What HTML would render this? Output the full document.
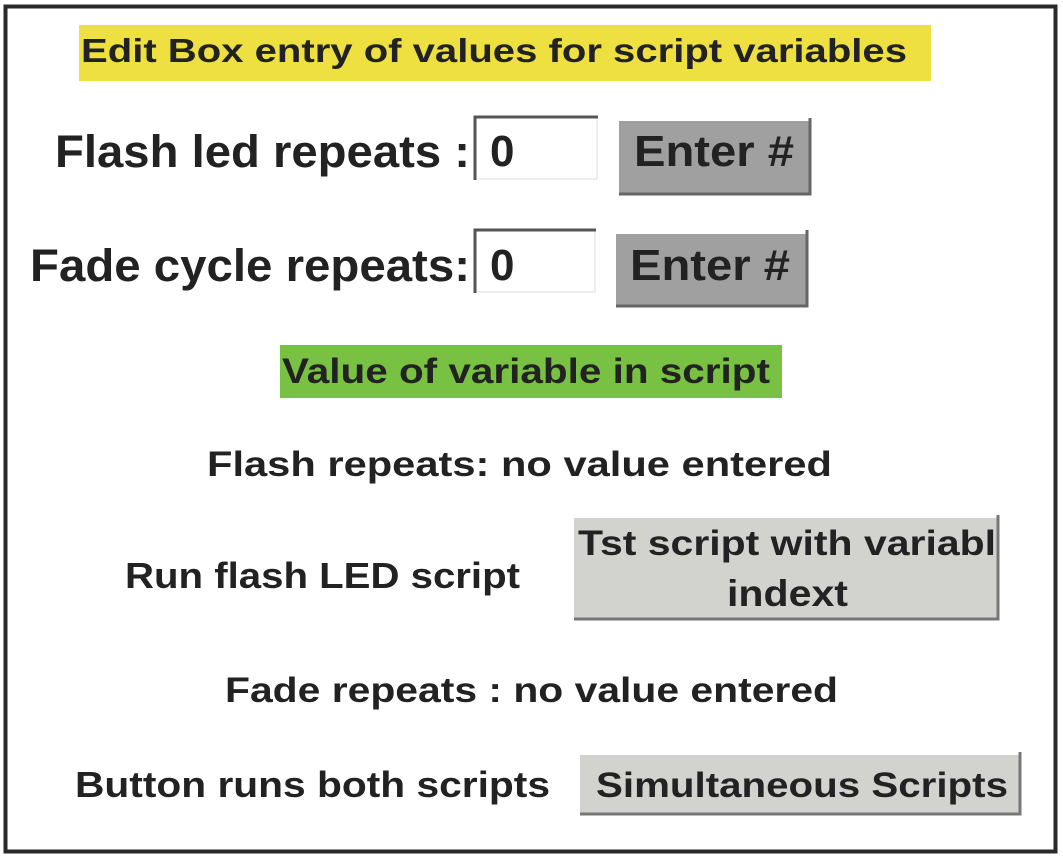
<!DOCTYPE html>
<html><head><meta charset="utf-8"><style>
html,body{margin:0;padding:0;background:#fff;}
svg{display:block;}
text{font-family:"Liberation Sans",Arial,sans-serif;font-weight:bold;fill:#222;}
</style></head><body>
<svg width="1063" height="860" viewBox="0 0 1063 860" xmlns="http://www.w3.org/2000/svg">
<rect x="0" y="0" width="1063" height="860" fill="#fff"/>
<rect x="5.5" y="6.5" width="1050" height="845" fill="#fff" stroke="#2a2a2a" stroke-width="4"/>

<rect x="79" y="25" width="852" height="56" fill="#eee040"/>
<text x="81" y="62" font-size="33" textLength="826" lengthAdjust="spacingAndGlyphs">Edit Box entry of values for script variables</text>

<text x="55" y="167" font-size="45" textLength="415" lengthAdjust="spacingAndGlyphs">Flash led repeats :</text>
<rect x="474" y="117" width="123" height="62" fill="#fff" stroke="#ddd" stroke-width="1"/>
<path d="M475 180 V117 H598" fill="none" stroke="#555" stroke-width="3"/>
<text x="490" y="166" font-size="44">0</text>
<rect x="619" y="121" width="191" height="73" fill="#a0a0a0"/>
<path d="M619 194 H810 V118" fill="none" stroke="#666" stroke-width="3"/>
<text x="634" y="166" font-size="44" textLength="160" lengthAdjust="spacingAndGlyphs">Enter #</text>

<text x="30" y="281" font-size="45" textLength="440" lengthAdjust="spacingAndGlyphs">Fade cycle repeats:</text>
<rect x="474" y="230" width="121" height="62" fill="#fff" stroke="#ddd" stroke-width="1"/>
<path d="M475 293 V230 H596" fill="none" stroke="#555" stroke-width="3"/>
<text x="490" y="280" font-size="44">0</text>
<rect x="616" y="234" width="191" height="72" fill="#a0a0a0"/>
<path d="M616 306 H807 V230" fill="none" stroke="#666" stroke-width="3"/>
<text x="630" y="280" font-size="44" textLength="160" lengthAdjust="spacingAndGlyphs">Enter #</text>

<rect x="280" y="345" width="502" height="53" fill="#79c142"/>
<text x="282" y="383" font-size="35" textLength="488" lengthAdjust="spacingAndGlyphs">Value of variable in script</text>

<text x="207" y="476" font-size="35" textLength="625" lengthAdjust="spacingAndGlyphs">Flash repeats:  no value entered</text>

<text x="125" y="588" font-size="36" textLength="395" lengthAdjust="spacingAndGlyphs">Run  flash LED script</text>
<rect x="574" y="518" width="424" height="100" fill="#d2d2ce"/>
<path d="M574 619 H998 V515" fill="none" stroke="#777" stroke-width="3"/>
<text x="578" y="555" font-size="35" textLength="418" lengthAdjust="spacingAndGlyphs">Tst script with variabl</text>
<text x="727" y="606" font-size="37" textLength="121" lengthAdjust="spacingAndGlyphs">indext</text>

<text x="225" y="702" font-size="35" textLength="613" lengthAdjust="spacingAndGlyphs">Fade repeats : no value entered</text>

<text x="75" y="797" font-size="36" textLength="475" lengthAdjust="spacingAndGlyphs">Button runs both scripts</text>
<rect x="580" y="755" width="440" height="59" fill="#d2d2ce"/>
<path d="M580 814 H1020 V752" fill="none" stroke="#777" stroke-width="3"/>
<text x="596" y="797" font-size="35" textLength="412" lengthAdjust="spacingAndGlyphs">Simultaneous Scripts</text>
</svg>
</body></html>
